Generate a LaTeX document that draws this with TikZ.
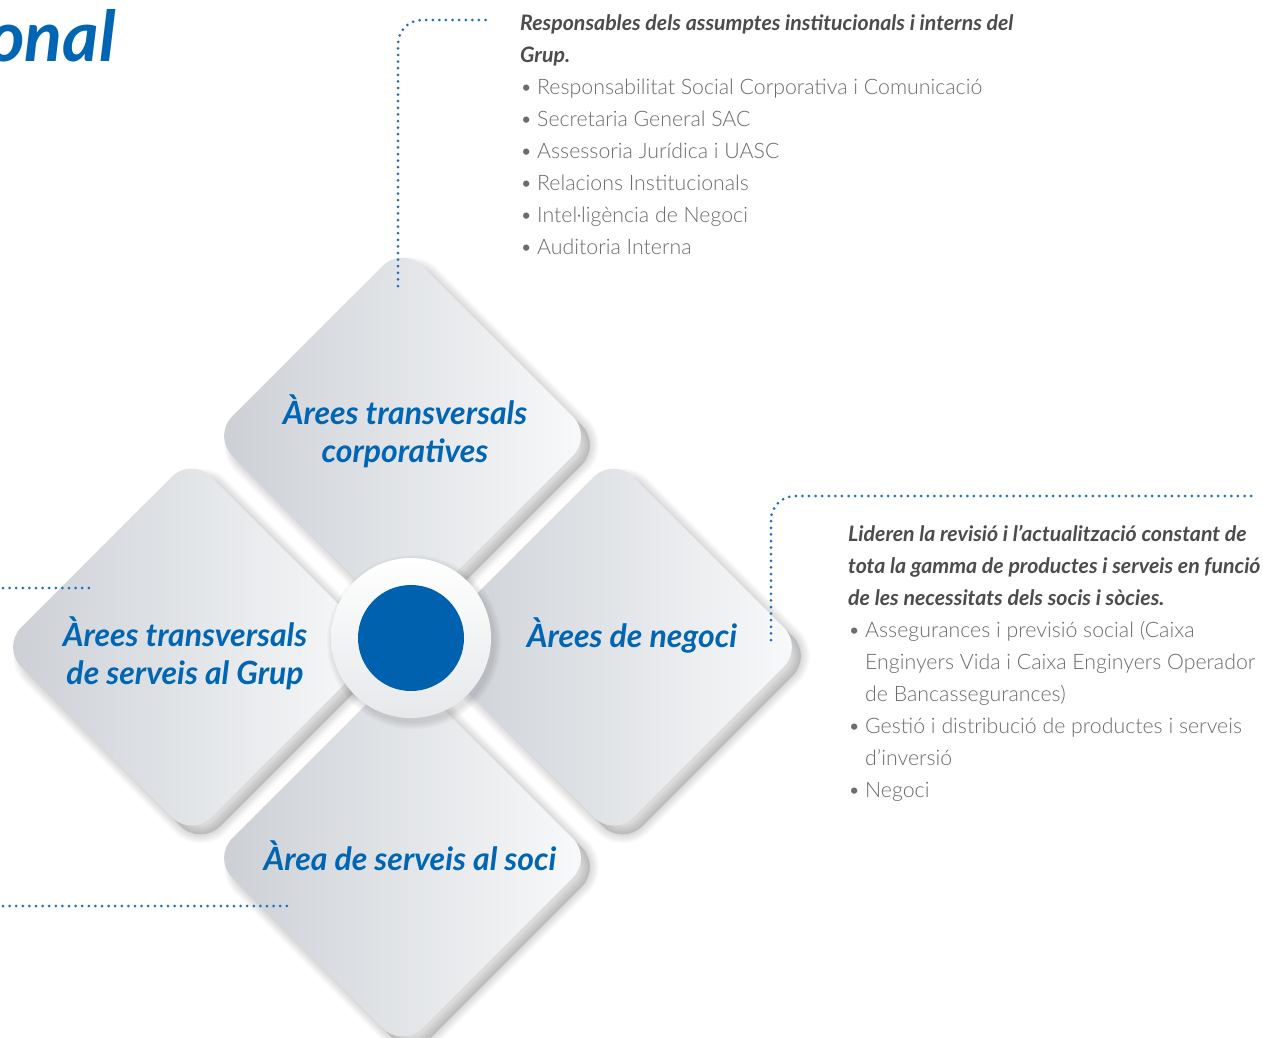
\documentclass[tikz,border=0pt]{standalone}
\usepackage{fontspec}
\setmainfont{Lato}
\newfontfamily\lightfont{Lato Light}
\usepackage{xcolor}
\usetikzlibrary{positioning}

\definecolor{areablue}{HTML}{0066B3}
\definecolor{hubblue}{HTML}{0062AE}
\definecolor{dotblue}{HTML}{1E6FC2}
\definecolor{introgray}{HTML}{4C4C4C}
\definecolor{bodygray}{HTML}{6C6C6C}
\definecolor{tiledark}{HTML}{CBCFD4}
\definecolor{tilelight}{HTML}{F9FAFB}
\definecolor{ringgray}{HTML}{E6E8EA}

\tikzset{
  tile/.style={rounded corners=28pt, left color=tiledark, right color=tilelight},
  tileshade/.style={rounded corners=28pt, draw=black, fill=black, opacity=0.025},
  leader/.style={draw=dotblue, line width=3pt, line cap=round, dash pattern=on 0pt off 6.6pt, rounded corners=24pt},
  tilelabel/.style={font=\fontsize{32}{38}\selectfont\bfseries\itshape, text=areablue, align=center, inner sep=0pt},
  textblock/.style={align=left, inner sep=0pt, anchor=north west, text=bodygray, font=\lightfont\fontsize{21.3}{32}\selectfont},
}
\newcommand{\itembul}{\makebox[17pt][l]{\textbullet}}
\newcommand{\itembulgap}{\makebox[17pt][l]{}}
\newcommand{\introline}[1]{{\color{introgray}\normalfont\bfseries\itshape #1}}

\begin{document}
\begin{tikzpicture}[x=1pt,y=-1pt]
	\fill[white] (0,0) rectangle (1263,1037);
	\useasboundingbox (0,0) rectangle (1263,1037);
	% soft shadows under the four tiles
	\foreach \x/\y in {402.5/436,191.5/647,613.5/647,402.5/858}{
		\foreach \w in {3,6,...,18}
			\draw[tileshade, line width=\w pt, shift={(9,9)}] (\x,\y-190) -- (\x+190,\y) -- (\x,\y+190) -- (\x-190,\y) -- cycle;
	}
	% the four tiles
	\foreach \x/\y in {402.5/436,191.5/647,613.5/647,402.5/858}
		\path[tile] (\x,\y-190) -- (\x+190,\y) -- (\x,\y+190) -- (\x-190,\y) -- cycle;
	\node[tilelabel] (corp) at (405,431) {Àrees transversals\\corporatives};
	\node[tilelabel] (grup) at (185,653) {Àrees transversals\\de serveis al Grup};
	\node[tilelabel, anchor=base] (negoci) at (632,647) {Àrees de negoci};
	\node[tilelabel, anchor=base] (soci) at (410,870) {Àrea de serveis al soci};
	% centre
	\coordinate (hubpos) at (411,638);
	\foreach \w in {2,5,...,14}
		\fill[black, opacity=0.025] ([shift={(3,4)}]hubpos) circle ({80+\w/2});
	\node[circle, minimum size=160pt, inner sep=0pt, top color=white, bottom color=ringgray] (ring) at (hubpos) {};
	\node[circle, minimum size=106pt, inner sep=0pt, fill=hubblue] (hub) at (hubpos) {};
	% leaders
	\coordinate (corpfoot) at (398,286);
	\coordinate (corpend) at (492,20);
	\coordinate (negocifoot) at (771,640);
	\coordinate (negociend) at (1255,496);
	\coordinate (grupstart) at (3,588);
	\coordinate (grupend) at (90,588);
	\coordinate (socistart) at (3,906);
	\coordinate (sociend) at (289,906);
	\draw[leader] (corpfoot) |- (corpend);
	\draw[leader] (negocifoot) |- (negociend);
	\draw[leader] (grupstart) -- (grupend);
	\draw[leader] (socistart) -- (sociend);
	% texts
	\node[font=\fontsize{70}{70}\selectfont\bfseries\itshape, text=areablue, anchor=base east, inner sep=0pt] (title) at (116,61) {onal};
	\node[textblock] (corptext) at (520,14) {\introline{Responsables dels assumptes institucionals i interns del}\\
		\introline{Grup.}\\
		\itembul Responsabilitat Social Corporativa i Comunicació\\
		\itembul Secretaria General SAC\\
		\itembul Assessoria Jurídica i UASC\\
		\itembul Relacions Institucionals\\
		\itembul Intel·ligència de Negoci\\
		\itembul Auditoria Interna};
	\node[textblock] (negocitext) at (848,525) {\introline{Lideren la revisió i l’actualització constant de}\\
		\introline{tota la gamma de productes i serveis en funció}\\
		\introline{de les necessitats dels socis i sòcies.}\\
		\itembul Assegurances i previsió social (Caixa\\
		\itembulgap Enginyers Vida i Caixa Enginyers Operador\\
		\itembulgap de Bancassegurances)\\
		\itembul Gestió i distribució de productes i serveis\\
		\itembulgap d’inversió\\
		\itembul Negoci};
\end{tikzpicture}
\end{document}
